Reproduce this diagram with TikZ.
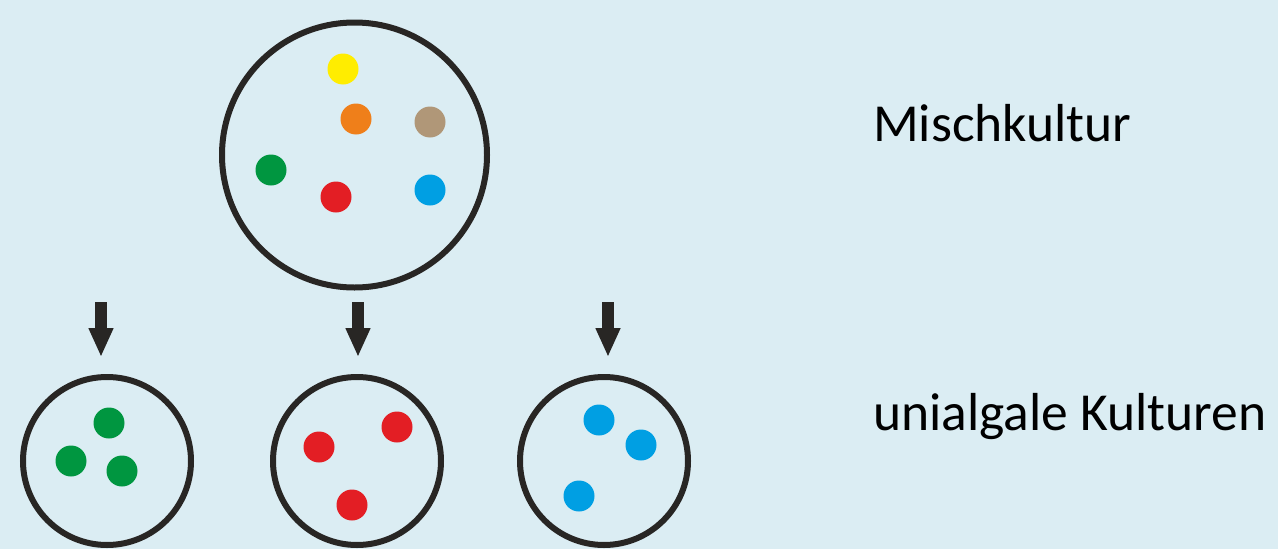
\documentclass[tikz,border=0pt]{standalone}
\usepackage{fontspec}
\setmainfont{Carlito}
\usetikzlibrary{arrows.meta,positioning}
\definecolor{kulturBg}{RGB}{219, 237, 243}
\definecolor{kulturLine}{RGB}{40, 38, 36}
\definecolor{kulturYellow}{RGB}{255, 237, 0}
\definecolor{kulturOrange}{RGB}{239, 127, 26}
\definecolor{kulturTan}{RGB}{176, 151, 120}
\definecolor{kulturGreen}{RGB}{0, 150, 64}
\definecolor{kulturRed}{RGB}{227, 30, 36}
\definecolor{kulturBlue}{RGB}{0, 159, 227}

\begin{document}
\begin{tikzpicture}[
  x=1pt, y=-1pt,
  dish/.style={
    draw=kulturLine,
    circle,
    line width=6pt,
    inner sep=0pt
  },
  cell/.style={circle, inner sep=0pt, minimum size=31pt},
  label/.style={anchor=base west, font=\fontsize{53.5}{60}\selectfont, text=black, inner sep=0pt},
  arrow/.style={-{Triangle[length=29pt,width=23pt]}, line width=12pt, kulturLine}
]
  \fill[kulturBg] (0,0) rectangle (1278,549);
  \useasboundingbox (0,0) rectangle (1278,549);

  % mixed culture
  \node[dish,minimum size=265pt] (mixed) at (354.5,155) {};
  \node[cell,fill=kulturYellow] (yellow) at (343,69) {};
  \node[cell,fill=kulturOrange] (orange) at (356,119) {};
  \node[cell,fill=kulturTan] (tan) at (430,122) {};
  \node[cell,fill=kulturGreen] (green) at (271,170) {};
  \node[cell,fill=kulturRed] (red) at (336,197) {};
  \node[cell,fill=kulturBlue] (blue) at (430,190) {};

  % unialgal cultures
  \node[dish,minimum size=168pt] (greenDish) at (107,461) {};
  \node[cell,fill=kulturGreen] (green1) at (109,423) {};
  \node[cell,fill=kulturGreen] (green2) at (71,461) {};
  \node[cell,fill=kulturGreen] (green3) at (122,471) {};

  \node[dish,minimum size=168pt] (redDish) at (357,461) {};
  \node[cell,fill=kulturRed] (red1) at (319,447) {};
  \node[cell,fill=kulturRed] (red2) at (397,427) {};
  \node[cell,fill=kulturRed] (red3) at (352,505) {};

  \node[dish,minimum size=168pt] (blueDish) at (604,461) {};
  \node[cell,fill=kulturBlue] (blue1) at (599,420) {};
  \node[cell,fill=kulturBlue] (blue2) at (641,445) {};
  \node[cell,fill=kulturBlue] (blue3) at (579,496) {};

  % arrows
  \coordinate (greenFrom) at (101,302);
  \coordinate (greenTo) at (101,357);
  \coordinate (redFrom) at (358,302);
  \coordinate (redTo) at (358,357);
  \coordinate (blueFrom) at (608,302);
  \coordinate (blueTo) at (608,357);
  \draw[arrow] (greenFrom) -- (greenTo);
  \draw[arrow] (redFrom) -- (redTo);
  \draw[arrow] (blueFrom) -- (blueTo);

  \node[label] (mixedText) at (873,141) {Mischkultur};
  \node[label] (unialgalText) at (873,430) {unialgale Kulturen};
\end{tikzpicture}
\end{document}
